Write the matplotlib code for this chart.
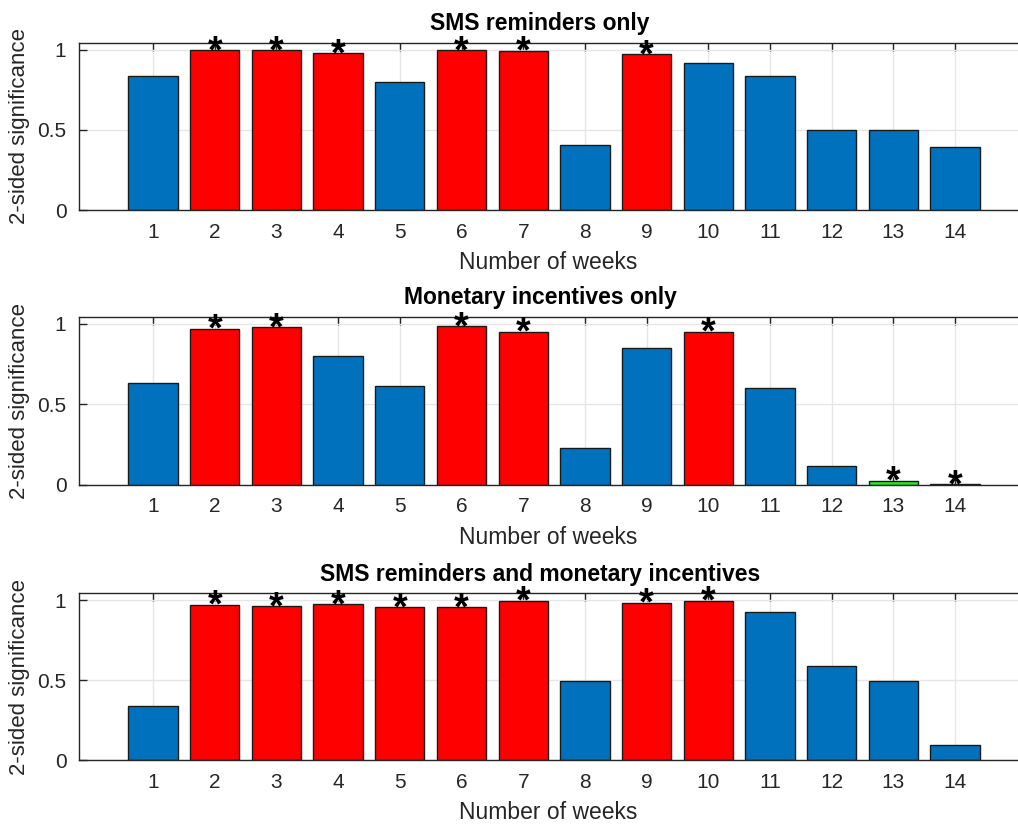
import matplotlib
matplotlib.use('Agg')
import matplotlib.pyplot as plt
import numpy as np

# --- Data ---
weeks = [1, 2, 3, 4, 5, 6, 7, 8, 9, 10, 11, 12, 13, 14]

sms_only = [0.838, 1.0, 1.0, 0.981, 0.797, 1.0, 0.994,
            0.405, 0.973, 0.921, 0.838, 0.498, 0.498, 0.392]
money_only = [0.633, 0.971, 0.979, 0.803, 0.614, 0.985, 0.952,
              0.226, 0.849, 0.952, 0.600, 0.114, 0.023, 0.003]
sms_and_money = [0.339, 0.973, 0.965, 0.978, 0.958, 0.958, 0.998,
                 0.498, 0.986, 0.998, 0.927, 0.590, 0.498, 0.094]

# significant weeks (high -> red, low -> green)
sig_high_sms = [2, 3, 4, 6, 7, 9]
sig_low_sms = []
sig_high_money = [2, 3, 6, 7, 10]
sig_low_money = [13, 14]
sig_high_both = [2, 3, 4, 5, 6, 7, 9, 10]
sig_low_both = []

titles = ['SMS reminders only', 'Monetary incentives only',
          'SMS reminders and monetary incentives']

plt.rcParams['font.family'] = ['Liberation Sans', 'DejaVu Sans']

BLUE = '#0072BD'
RED = '#FF0000'
GREEN = '#22EE22'


def draw_panel(ax, values, sig_high, sig_low, title):
    colors = []
    for w in weeks:
        if w in sig_high:
            colors.append(RED)
        elif w in sig_low:
            colors.append(GREEN)
        else:
            colors.append(BLUE)
    ax.bar(weeks, values, 0.8, color=colors, edgecolor='#1a1a1a', linewidth=1.0, zorder=2)

    # stars on significant bars
    for w, v in zip(weeks, values):
        if w in sig_high or w in sig_low:
            ax.annotate('*', xy=(w, v), xytext=(0, -1.5), textcoords='offset points',
                        ha='center', va='center', fontsize=27, fontweight='bold',
                        zorder=4, annotation_clip=False)

    ax.set_xlim(-0.2, 15.02)
    ax.set_ylim(0, 1.045)
    ax.set_xticks(weeks)
    ax.set_yticks([0, 0.5, 1])
    ax.set_yticklabels(['0', '0.5', '1'])
    ax.tick_params(direction='in', length=6, width=1.0, colors='#262626',
                   labelcolor='#262626', labelsize=15, top=True, pad=9)
    ax.grid(True, color='#e6e6e6', linewidth=1.0, zorder=0)
    ax.set_axisbelow(True)
    ax.spines['right'].set_visible(False)
    for s in ['left', 'top', 'bottom']:
        ax.spines[s].set_color('#262626')
        ax.spines[s].set_linewidth(1.0)
    ax.set_title(title, fontsize=16.5, fontweight='bold', x=0.491, pad=9)
    ax.set_xlabel('Number of weeks', fontsize=16.5, color='#262626', labelpad=7)
    ax.set_ylabel('2-sided significance', fontsize=16, color='#262626', labelpad=5)


fig = plt.figure(figsize=(10.18, 8.24), dpi=100)
left = 79 / 1018
width = 1 - left
panel_tops = [42.7, 316.7, 593.3]
panel_bottoms = [210, 484.5, 760]
series = [sms_only, money_only, sms_and_money]
highs = [sig_high_sms, sig_high_money, sig_high_both]
lows = [sig_low_sms, sig_low_money, sig_low_both]

for top, bottom, vals, hi, lo, title in zip(panel_tops, panel_bottoms, series, highs, lows, titles):
    ax = fig.add_axes([left, 1 - bottom / 824, width, (bottom - top) / 824])
    draw_panel(ax, vals, hi, lo, title)

fig.savefig('out.png', dpi=100)
